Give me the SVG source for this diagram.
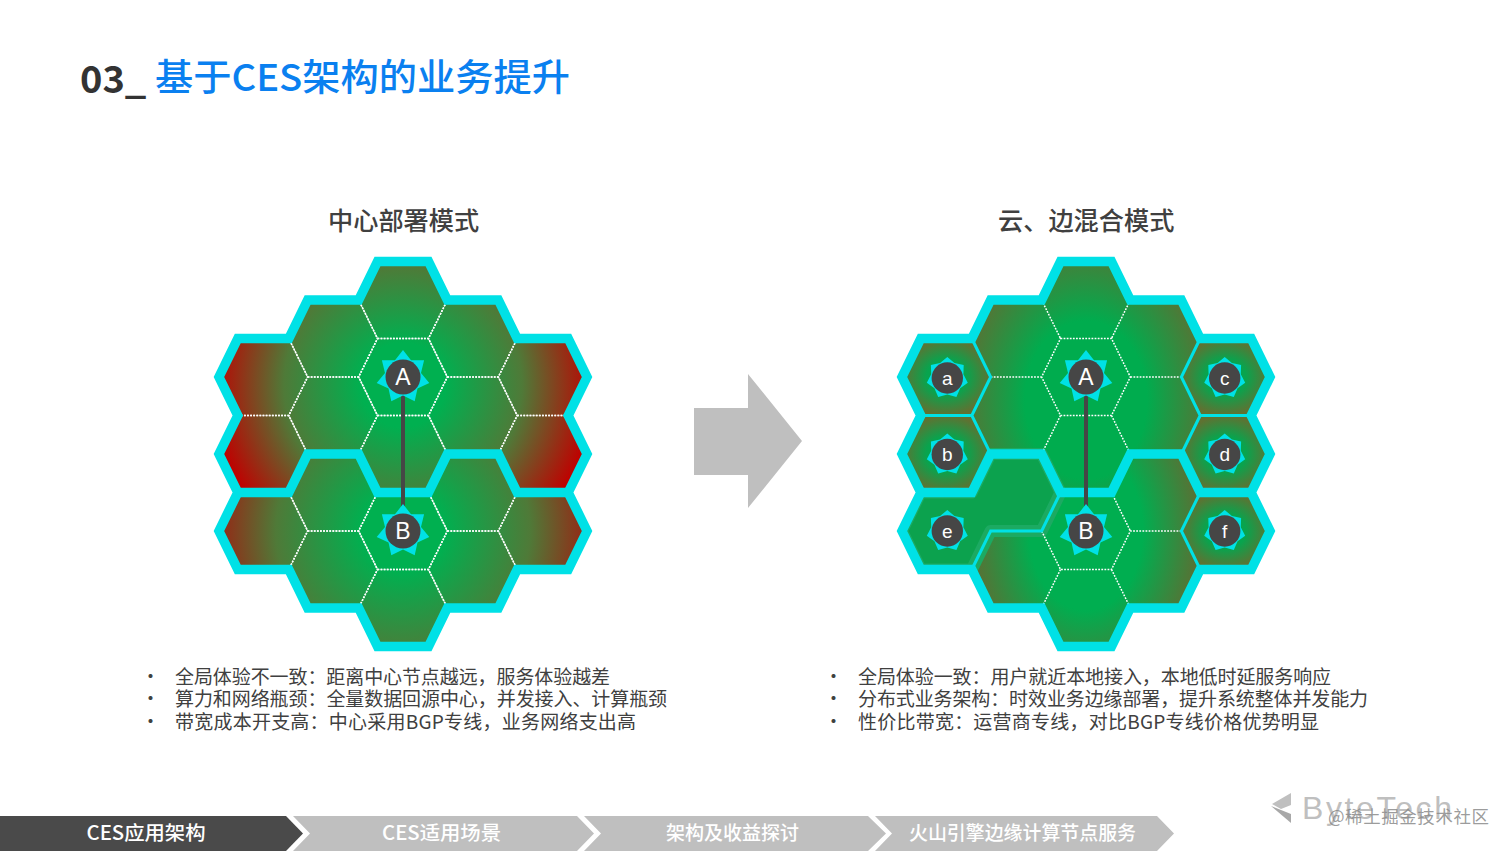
<svg xmlns="http://www.w3.org/2000/svg" xmlns:xlink="http://www.w3.org/1999/xlink" width="1512" height="851" viewBox="0 0 1512 851">
<style>
.cj{font-family:"Noto Sans CJK SC","Noto Sans",sans-serif}
.body{font-size:19px;fill:#404040;letter-spacing:-.1px}
.sub{font-size:25.2px;fill:#404040;font-weight:500}
.tab{font-size:19.3px;fill:#fff;text-anchor:middle;font-weight:500}
.thick{fill:none;stroke:#00e1e6;stroke-width:9.5;stroke-linejoin:miter}
.thin{fill:none;stroke:#00e1e6;stroke-width:3}
.dash{fill:none;stroke:#fff;stroke-width:1.5;stroke-dasharray:1.8 1.3}
.lk{stroke:#464646;stroke-width:4}
.dot{fill:#464646}
.big{font:23px "Liberation Sans",Arial,sans-serif;fill:#fff;text-anchor:middle}
.small{font:19px "Liberation Sans",Arial,sans-serif;fill:#fff;text-anchor:middle}
.st{fill:#00e1e6}
.tabd{fill:#4a4a4a}
.tabl{fill:#bfbfbf}
</style>
<defs>
<radialGradient id="lu" gradientUnits="userSpaceOnUse" cx="403" cy="385" r="192"><stop offset=".22" stop-color="#00b050"/><stop offset=".62" stop-color="#4f7a38"/><stop offset="1" stop-color="#c00000"/></radialGradient>
<radialGradient id="ll" gradientUnits="userSpaceOnUse" cx="403" cy="531" r="205"><stop offset=".2" stop-color="#00b050"/><stop offset=".62" stop-color="#4f7a38"/><stop offset="1" stop-color="#b00808"/></radialGradient>
<radialGradient id="ru" gradientUnits="userSpaceOnUse" cx="0" cy="0" r="145" gradientTransform="translate(403 400) scale(1 1.3)"><stop offset=".42" stop-color="#00ac4e"/><stop offset="1" stop-color="#75602c"/></radialGradient>
<radialGradient id="rl" gradientUnits="userSpaceOnUse" cx="0" cy="0" r="135" gradientTransform="translate(403 531) scale(1 1.4)"><stop offset=".42" stop-color="#00ae50"/><stop offset="1" stop-color="#7a5a2a"/></radialGradient>
<radialGradient id="sm"><stop offset=".45" stop-color="#08a44e"/><stop offset="1" stop-color="#5f7232"/></radialGradient>
<path id="hx" d="M-25.5-38.5H25.5L44.35 0 25.5 38.5H-25.5L-44.35 0Z"/>
<path id="hull" d="M377.5 261.5H428.5L447.35 300H498.35L517.2 338.5H568.2L587.05 377 568.2 415.5 587.05 454 568.2 492.5 587.05 531 568.2 569.5H517.2L498.35 608H447.35L428.5 646.5H377.5L358.65 608H307.65L288.8 569.5H237.8L218.95 531 237.8 492.5 218.95 454 237.8 415.5 218.95 377 237.8 338.5H288.8L307.65 300H358.65Z"/>
<clipPath id="hc"><use href="#hull"/></clipPath>
<path id="band" d="M237.8 492.5H288.8L307.65 454H358.65L377.5 492.5H428.5L447.35 454H498.35L517.2 492.5H568.2"/>
<path id="lower" d="M237.8 492.5H288.8L307.65 454H358.65L377.5 492.5H428.5L447.35 454H498.35L517.2 492.5H568.2L587.05 531 568.2 569.5H517.2L498.35 608H447.35L428.5 646.5H377.5L358.65 608H307.65L288.8 569.5H237.8L218.95 531Z"/>
<polygon id="star" points="0,-27 8,-16.7 21.1,-16.8 18,-4.1 26.3,6 14.5,11.5 11.7,24.3 0,18.5 -11.7,24.3 -14.5,11.5 -26.3,6 -18,-4.1 -21.1,-16.8 -8,-16.7"/>
<polygon id="star2" points="0,-21 7.2,-14.9 16.4,-13.1 16.1,-3.7 20.5,4.7 12.9,10.3 9.1,18.9 0,16.5 -9.1,18.9 -12.9,10.3 -20.5,4.7 -16.1,-3.7 -16.4,-13.1 -7.2,-14.9"/>
</defs>
<rect width="1512" height="851" fill="#fff"/>

<g id="title" class="cj">
<text x="80" y="93" font-size="38" font-weight="700" fill="#333">03_</text>
<text x="155" y="91" font-size="37" font-weight="500" fill="#0a80f0" textLength="415" lengthAdjust="spacingAndGlyphs">基于CES架构的业务提升</text>
</g>

<g id="left-cluster">
<use href="#hull" fill="url(#lu)"/>
<use href="#lower" fill="url(#ll)"/>
<g class="dash">
<use href="#hx" x="403" y="300"/><use href="#hx" x="403" y="377"/><use href="#hx" x="403" y="454"/><use href="#hx" x="403" y="531"/><use href="#hx" x="403" y="608"/>
<use href="#hx" x="333.15" y="338.5"/><use href="#hx" x="333.15" y="415.5"/><use href="#hx" x="333.15" y="492.5"/><use href="#hx" x="333.15" y="569.5"/>
<use href="#hx" x="472.85" y="338.5"/><use href="#hx" x="472.85" y="415.5"/><use href="#hx" x="472.85" y="492.5"/><use href="#hx" x="472.85" y="569.5"/>
<use href="#hx" x="263.3" y="377"/><use href="#hx" x="263.3" y="454"/><use href="#hx" x="263.3" y="531"/>
<use href="#hx" x="542.7" y="377"/><use href="#hx" x="542.7" y="454"/><use href="#hx" x="542.7" y="531"/>
</g>
<use href="#hull" class="thick"/>
<use href="#band" class="thick"/>
</g>

<g id="right-cluster" transform="translate(683 0)">
<use href="#hull" fill="url(#ru)"/>
<use href="#lower" fill="url(#rl)"/>
<g clip-path="url(#hc)"><path d="M237.8 492.5H288.8L307.65 454H358.65L377.5 492.5 358.65 531H307.65L288.8 569.5H237.8L218.95 531Z" fill="#0ca24e" stroke="#1caa62" stroke-width="12" stroke-linejoin="round"/></g>
<use href="#hx" x="263.3" y="377" fill="url(#sm)"/><use href="#hx" x="263.3" y="454" fill="url(#sm)"/>
<use href="#hx" x="542.7" y="377" fill="url(#sm)"/><use href="#hx" x="542.7" y="454" fill="url(#sm)"/><use href="#hx" x="542.7" y="531" fill="url(#sm)"/>
<path class="dash" d="M358.65 300L377.5 338.5M447.35 300L428.5 338.5M377.5 338.5H428.5L447.35 377 428.5 415.5H377.5L358.65 377ZM307.65 377H358.65M447.35 377H498.35M377.5 415.5L358.65 454M428.5 415.5L447.35 454M358.65 531L377.5 569.5H428.5L447.35 531H498.35M428.5 492.5L447.35 531M377.5 569.5L358.65 608M428.5 569.5L447.35 608"/>
<path class="thin" d="M288.8 338.5L307.65 377 288.8 415.5 307.65 454M237.8 415.5H288.8M517.2 338.5L498.35 377 517.2 415.5 498.35 454M517.2 415.5H568.2M377.5 492.5L358.65 531H307.65L288.8 569.5M517.2 492.5L498.35 531 517.2 569.5"/>
<use href="#hull" class="thick"/>
<use href="#band" class="thick"/>
</g>

<g id="connectors">
<line class="lk" x1="403" y1="377" x2="403" y2="531"/>
<line class="lk" x1="1086" y1="377" x2="1086" y2="531"/>
</g>

<g id="node-A-left"><use href="#star" class="st" x="403" y="377"/><circle class="dot" cx="403" cy="377" r="17.5"/><text class="big" x="403" y="385">A</text></g>
<g id="node-B-left"><use href="#star" class="st" x="403" y="531"/><circle class="dot" cx="403" cy="531" r="17.5"/><text class="big" x="403" y="539">B</text></g>
<g id="node-A-right"><use href="#star" class="st" x="1086" y="377"/><circle class="dot" cx="1086" cy="377" r="17.5"/><text class="big" x="1086" y="385">A</text></g>
<g id="node-B-right"><use href="#star" class="st" x="1086" y="531"/><circle class="dot" cx="1086" cy="531" r="17.5"/><text class="big" x="1086" y="539">B</text></g>
<g id="node-a"><use href="#star2" class="st" x="947.3" y="378"/><circle class="dot" cx="947.3" cy="378" r="15.7"/><text class="small" x="947.3" y="384.5">a</text></g>
<g id="node-b"><use href="#star2" class="st" x="947.3" y="454.5"/><circle class="dot" cx="947.3" cy="454.5" r="15.7"/><text class="small" x="947.3" y="461">b</text></g>
<g id="node-e"><use href="#star2" class="st" x="947.3" y="531"/><circle class="dot" cx="947.3" cy="531" r="15.7"/><text class="small" x="947.3" y="537.5">e</text></g>
<g id="node-c"><use href="#star2" class="st" x="1224.7" y="378"/><circle class="dot" cx="1224.7" cy="378" r="15.7"/><text class="small" x="1224.7" y="384.5">c</text></g>
<g id="node-d"><use href="#star2" class="st" x="1224.7" y="454.5"/><circle class="dot" cx="1224.7" cy="454.5" r="15.7"/><text class="small" x="1224.7" y="461">d</text></g>
<g id="node-f"><use href="#star2" class="st" x="1224.7" y="531"/><circle class="dot" cx="1224.7" cy="531" r="15.7"/><text class="small" x="1224.7" y="537.5">f</text></g>

<g id="headings" class="cj">
<text class="sub" x="328" y="230">中心部署模式</text>
<text class="sub" x="998" y="230">云、边混合模式</text>
</g>

<polygon id="arrow" points="694,408 748,408 748,374 802,441 748,508 748,475 694,475" fill="#bfbfbf"/>

<g id="left-text" class="cj body">
<text x="141" y="684">•</text><text x="175" y="684" textLength="435">全局体验不一致：距离中心节点越远，服务体验越差</text>
<text x="141" y="706">•</text><text x="175" y="706" textLength="492">算力和网络瓶颈：全量数据回源中心，并发接入、计算瓶颈</text>
<text x="141" y="729">•</text><text x="175" y="729" textLength="461">带宽成本开支高：中心采用BGP专线，业务网络支出高</text>
</g>
<g id="right-text" class="cj body">
<text x="824" y="684">•</text><text x="858" y="684" textLength="473">全局体验一致：用户就近本地接入，本地低时延服务响应</text>
<text x="824" y="706">•</text><text x="858" y="706" textLength="510">分布式业务架构：时效业务边缘部署，提升系统整体并发能力</text>
<text x="824" y="729">•</text><text x="858" y="729" textLength="461">性价比带宽：运营商专线，对比BGP专线价格优势明显</text>
</g>

<g id="tabs" class="cj">
<polygon class="tabd" points="0,816 286,816 303,833.5 286,851 0,851"/>
<polygon class="tabl" points="293,816 577,816 594,833.5 577,851 293,851 310,833.5"/>
<polygon class="tabl" points="584,816 868,816 886,833.5 868,851 584,851 601,833.5"/>
<polygon class="tabl" points="875,816 1157,816 1174,833.5 1157,851 875,851 892,833.5"/>
<text class="tab" x="146" y="840" textLength="119" lengthAdjust="spacingAndGlyphs">CES应用架构</text>
<text class="tab" x="441.5" y="840" textLength="119" lengthAdjust="spacingAndGlyphs">CES适用场景</text>
<text class="tab" x="732.5" y="840" textLength="133" lengthAdjust="spacingAndGlyphs">架构及收益探讨</text>
<text class="tab" x="1022.5" y="840" textLength="227" lengthAdjust="spacingAndGlyphs">火山引擎边缘计算节点服务</text>
</g>

<g id="logo">
<polygon points="1291,793 1291,805 1281,809 1272,804" fill="#bfbfbf"/>
<polygon points="1271,806 1281,810 1291,814 1291,823" fill="#a8a8a8"/>
<text x="1302" y="819" font-family="Liberation Sans, Arial, sans-serif" font-size="32" fill="#bfbfbf" textLength="150">ByteTech</text>
</g>
<text id="watermark" class="cj" x="1328" y="823" font-size="17.5" fill="#8a8a8a" fill-opacity=".85" textLength="161">@稀土掘金技术社区</text>
</svg>
